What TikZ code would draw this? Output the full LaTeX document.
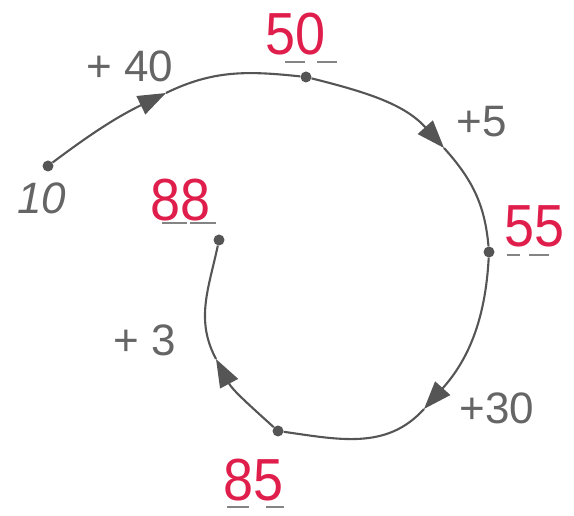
\documentclass[tikz,border=0pt]{standalone}
\usepackage{fontspec}
\setmainfont{Liberation Sans}
\usetikzlibrary{arrows.meta}
\definecolor{ink}{HTML}{555555}
\definecolor{txt}{HTML}{656565}
\definecolor{pen}{HTML}{E01E4C}
\begin{document}
\begin{tikzpicture}[x=1pt,y=1pt,
  dot/.style={circle,fill=ink,inner sep=0pt,minimum size=11pt},
  conn/.style={draw=ink,line width=2.1pt},
  tip/.style={-{Triangle[length=28pt,width=20pt]}},
  op/.style={text=txt,font=\fontsize{44}{44}\selectfont,inner sep=0pt},
  res/.style={text=pen,font=\fontsize{54}{54}\selectfont,inner sep=0pt,yscale=1.1},
  ulbar/.style={draw=txt!80,line width=2.6pt}]
\useasboundingbox (0,0) rectangle (574,516);
% points
\node[dot] (n10) at (48,350) {};
\node[dot] (n50) at (306,439) {};
\node[dot] (n55) at (489,264) {};
\node[dot] (n85) at (278,85) {};
\node[dot] (n88) at (219,276) {};
% arrow tip positions
\coordinate (a1) at (166,423);
\coordinate (a2) at (444,368);
\coordinate (a3) at (424,107);
\coordinate (a4) at (216,157);
% connectors
\draw[conn,tip] (n10) to[out=37,in=206] (a1);
\draw[conn] (a1) to[out=26,in=174] (n50);
\draw[conn,tip] (n50) to[out=-14,in=132] (a2);
\draw[conn] (a2) to[out=-48,in=95] (n55);
\draw[conn,tip] (n55) to[out=-93,in=48] (a3);
\draw[conn] (a3) to[out=228,in=-8] (n85);
\draw[conn,tip] (n85) to[out=138,in=-62] (a4);
\draw[conn] (a4) to[out=118,in=-102] (n88);
% operation labels
\node[op] (t40) at (130,450) {+ 40};
\node[op] (t5) at (482,394) {+5};
\node[op] (t30) at (497,108) {+30};
\node[op] (t3) at (145,176) {+ 3};
\node[op,font=\fontsize{44}{44}\selectfont\itshape] (t10) at (42,318) {10};
% results
\node[res] (r50) at (296,482) {50};
\node[res] (r55) at (535,290) {55};
\node[res] (r85) at (254,36) {85};
\node[res] (r88) at (181,316) {88};
% underline marks
\draw[ulbar] (285,454) -- (305,454) (317,454) -- (337,454);
\draw[ulbar] (507,261) -- (520,261) (529,261) -- (549,261);
\draw[ulbar] (162,293) -- (187,293) (190,293) -- (216,293);
\draw[ulbar] (227,9) -- (249,9) (266,9) -- (284,9);
\end{tikzpicture}
\end{document}
